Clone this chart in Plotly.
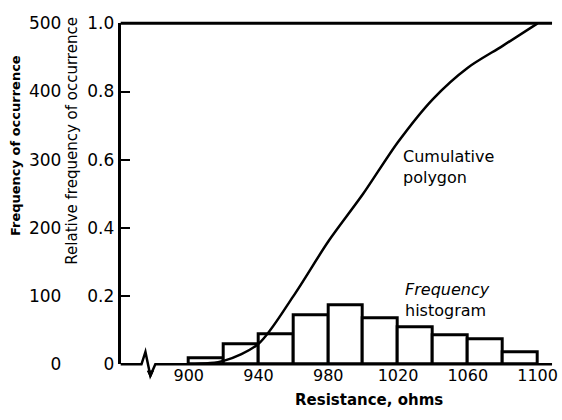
import plotly.graph_objects as go

# ---- data ----
bin_edges = [900, 920, 940, 960, 980, 1000, 1020, 1040, 1060, 1080, 1100]
frequency = [9, 29, 44, 72, 87, 68, 54, 43, 37, 18]
cum_x = [900, 920, 940, 960, 980, 1000, 1020, 1040, 1060, 1080, 1100]
cum_rel = [0.0, 0.01, 0.06, 0.20, 0.36, 0.50, 0.652, 0.778, 0.87, 0.934, 1.0]
x_ticks = [900, 940, 980, 1020, 1060, 1100]
freq_ticks = [0, 100, 200, 300, 400, 500]
rel_ticks = [0, 0.2, 0.4, 0.6, 0.8, 1.0]
rel_tick_text = ["0", "0.2", "0.4", "0.6", "0.8", "1.0"]

centers = [(a + b) / 2 for a, b in zip(bin_edges[:-1], bin_edges[1:])]
widths = [b - a for a, b in zip(bin_edges[:-1], bin_edges[1:])]

W, H = 562, 420
L, R, T, B = 122, 558, 14, 372
FONT = "DejaVu Sans"


def fx(p):
    return p / W


def fy(p):
    return 1 - p / H


fig = go.Figure()
fig.add_trace(go.Bar(
    x=centers, y=frequency, width=widths,
    marker=dict(color="white", line=dict(color="black", width=3)),
    yaxis="y", showlegend=False,
))
fig.add_trace(go.Scatter(
    x=cum_x, y=cum_rel, mode="lines",
    line=dict(color="black", width=2.5, shape="spline", smoothing=0.8),
    yaxis="y2", showlegend=False,
))

fig.update_layout(
    width=W, height=H,
    margin=dict(l=0, r=0, t=0, b=0),
    paper_bgcolor="white", plot_bgcolor="white",
    font=dict(family=FONT, color="black"),
    xaxis=dict(
        domain=[fx(L), fx(R)], range=[861, 1108.3],
        tickvals=x_ticks, ticks="", showline=False, showgrid=False,
        zeroline=False, tickfont=dict(size=16, family=FONT),
        ticklabeloverflow="allow",
    ),
    yaxis=dict(
        domain=[fy(B), fy(T)], range=[0, 500], anchor="free", position=fx(62),
        tickvals=freq_ticks, ticks="", showline=False, showgrid=False,
        zeroline=False, tickfont=dict(size=17, family=FONT),
        ticklabeloverflow="allow",
    ),
    yaxis2=dict(
        domain=[fy(B), fy(T)], range=[0, 1], overlaying="y", side="left", anchor="x",
        tickvals=rel_ticks, ticktext=rel_tick_text, ticks="inside", ticklen=9,
        tickwidth=2, tickcolor="black", showline=True, linewidth=3, linecolor="black",
        showgrid=False, zeroline=False, tickfont=dict(size=17, family=FONT),
        ticklabeloverflow="allow",
    ),
    bargap=0,
)

# axis frame: top line and broken bottom line
fig.add_shape(type="line", xref="paper", yref="paper",
              x0=fx(L), x1=fx(R), y0=fy(T), y1=fy(T),
              line=dict(color="black", width=3))
path = (f"M {fx(L)},{fy(B)} L {fx(143)},{fy(B)} L {fx(147)},{fy(359)} "
        f"L {fx(152)},{fy(384)} L {fx(157)},{fy(B)} L {fx(R)},{fy(B)}")
fig.add_shape(type="path", xref="paper", yref="paper", path=path,
              line=dict(color="black", width=2.5))
arrow = f"M {fx(149)},{fy(379)} L {fx(155)},{fy(379)} L {fx(152)},{fy(386)} Z"
fig.add_shape(type="path", xref="paper", yref="paper", path=arrow,
              fillcolor="black", line=dict(color="black", width=1))

ann = [
    dict(text="<b>Frequency of occurrence</b>", x=fx(15), y=fy(142), textangle=-90,
         font=dict(size=13)),
    dict(text="Relative frequency of occurrence", x=fx(73), y=fy(137), textangle=-90,
         font=dict(size=15)),
    dict(text="<b>Resistance, ohms</b>", x=fx(373), y=fy(410), font=dict(size=15)),
    dict(text="Cumulative<br>polygon", x=fx(405), y=fy(165), xanchor="left", align="left",
         font=dict(size=16)),
    dict(text="<i>Frequency</i><br>histogram", x=fx(407), y=fy(305), xanchor="left",
         align="left", font=dict(size=16)),
]
for a in ann:
    a.setdefault("xanchor", "center")
    fig.add_annotation(xref="paper", yref="paper", showarrow=False, yanchor="middle",
                       **a)

fig.write_html("out.html", config={"displayModeBar": False},
               post_script="document.body.style.margin='0';")
